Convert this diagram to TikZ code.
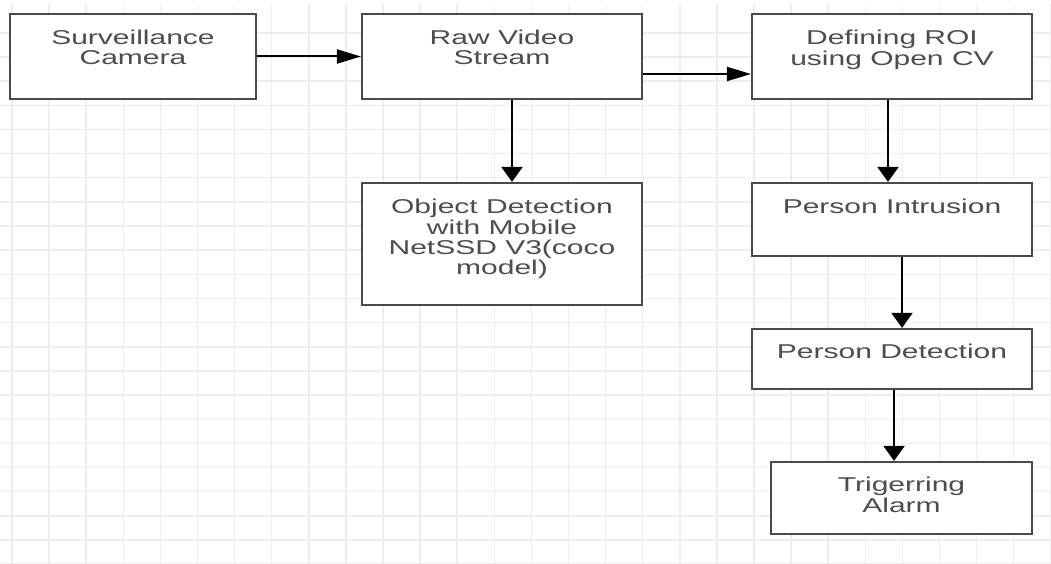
\documentclass[tikz,border=0pt]{standalone}
\usepackage{fontspec}
\setmainfont{Liberation Sans}
\usepackage{graphicx}
\usetikzlibrary{arrows.meta,calc}
\newcommand{\boxtext}[1]{\scalebox{1.5}[1]{\begin{tabular}[t]{@{}c@{}}#1\end{tabular}}}
\definecolor{gridc}{HTML}{EEEEEE}
\definecolor{boxc}{HTML}{4A4A4A}
\definecolor{txtc}{HTML}{4D4D4D}
\begin{document}
\begin{tikzpicture}[x=1pt,y=-1pt,
  gridline/.style={draw=gridc,line width=1.5pt},
  stepbox/.style={draw=boxc,line width=2.2pt,fill=white,rectangle,inner sep=0pt},
  lbl/.style={anchor=base,inner sep=0pt,text=txtc,font=\fontsize{20}{19.5}\selectfont},
  conn/.style={draw=black,line width=2pt},
  harrow/.style={conn,-{Triangle[length=24pt,width=14pt]}},
  varrow/.style={conn,-{Triangle[length=15pt,width=21pt]}}]
\useasboundingbox (0,0) rectangle (1051,564);
\fill[white] (0,0) rectangle (1051,564);
% grid
\foreach \i in {0,...,28} \draw[gridline] ({12+37.1*\i},4) -- ({12+37.1*\i},564);
\foreach \j in {1,...,23} \draw[gridline] (0,{8.7+24.15*\j}) -- (1051,{8.7+24.15*\j});
% boxes
\node[stepbox,minimum width=246pt,minimum height=85pt] (cam) at (133,56.5) {};
\node[stepbox,minimum width=280pt,minimum height=85pt] (raw) at (502,56.5) {};
\node[stepbox,minimum width=280pt,minimum height=85pt] (roi) at (892,56.5) {};
\node[stepbox,minimum width=280pt,minimum height=122pt] (obj) at (502,244) {};
\node[stepbox,minimum width=280pt,minimum height=73pt] (intr) at (892,219.5) {};
\node[stepbox,minimum width=280pt,minimum height=60pt] (det) at (892,359) {};
\node[stepbox,minimum width=261pt,minimum height=72pt] (alarm) at (901.5,498) {};
% labels
\node[lbl] (camt) at ($(cam.north)+(0,32)$) {\boxtext{Surveillance\\Camera}};
\node[lbl] (rawt) at ($(raw.north)+(0,32)$) {\boxtext{Raw Video\\Stream}};
\node[lbl] (roit) at ($(roi.north)+(0,32)$) {\boxtext{Defining ROI\\using Open CV}};
\node[lbl] (objt) at ($(obj.north)+(0,32)$) {\boxtext{Object Detection\\with Mobile\\NetSSD V3(coco\\model)}};
\node[lbl] (intrt) at ($(intr.north)+(0,31.5)$) {\boxtext{Person Intrusion}};
\node[lbl] (dett) at ($(det.north)+(0,31)$) {\boxtext{Person Detection}};
\node[lbl] (alarmt) at ($(alarm.north)+(0,31)$) {\boxtext{Trigerring\\Alarm}};
% connectors
\coordinate (r1) at ($(raw.east)+(0,17.5)$);
\coordinate (r2) at ($(raw.south)+(10,0)$);
\coordinate (r3) at ($(roi.south)+(-4,0)$);
\coordinate (r4) at ($(intr.south)+(10,0)$);
\coordinate (r5) at ($(det.south)+(2,0)$);
\draw[harrow] (cam.east) -- (raw.west);
\draw[harrow] (r1) -- (r1 -| roi.west);
\draw[varrow] (r2) -- (r2 |- obj.north);
\draw[varrow] (r3) -- (r3 |- intr.north);
\draw[varrow] (r4) -- (r4 |- det.north);
\draw[varrow] (r5) -- (r5 |- alarm.north);
\end{tikzpicture}
\end{document}
